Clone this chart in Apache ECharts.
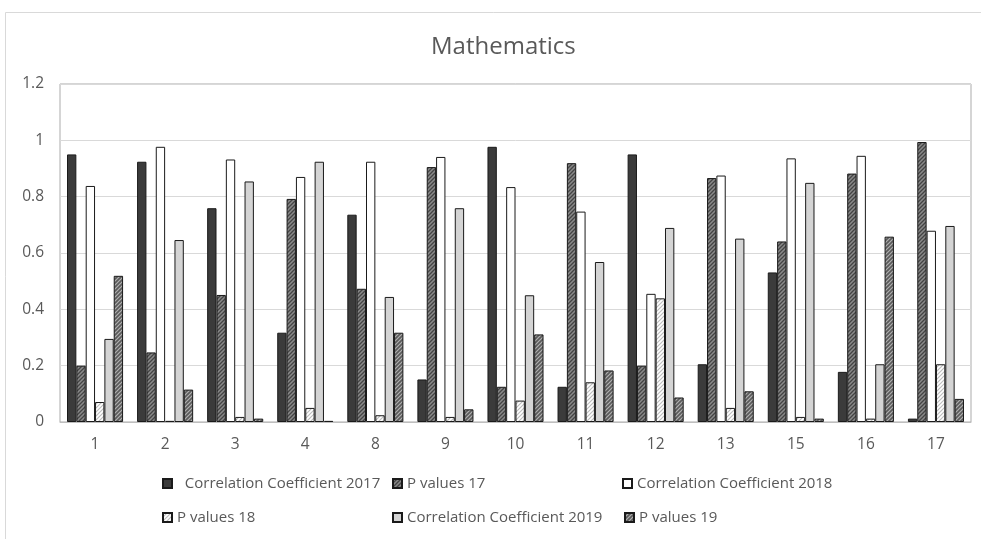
<!DOCTYPE html>
<html>
<head>
<meta charset="utf-8">
<script src="https://cdn.jsdelivr.net/npm/echarts@6/dist/echarts.min.js"></script>
<style>html,body{margin:0;padding:0;background:#fff}#c{width:981px;height:539px}</style>
</head>
<body>
<div id="c"></div>
<script>
const categories = ['1','2','3','4','8','9','10','11','12','13','15','16','17'];
const cc2017 = [0.950,0.924,0.759,0.317,0.736,0.151,0.977,0.125,0.950,0.205,0.531,0.178,0.012];
const p17    = [0.200,0.247,0.451,0.792,0.473,0.905,0.125,0.919,0.200,0.866,0.641,0.882,0.994];
const cc2018 = [0.838,0.977,0.932,0.870,0.924,0.941,0.834,0.747,0.455,0.875,0.936,0.945,0.679];
const p18    = [0.071,0.004,0.018,0.050,0.024,0.018,0.076,0.141,0.439,0.050,0.018,0.012,0.205];
const cc2019 = [0.295,0.646,0.854,0.924,0.444,0.759,0.450,0.568,0.689,0.651,0.849,0.205,0.696];
const p19    = [0.519,0.115,0.012,0.004,0.317,0.045,0.311,0.183,0.087,0.109,0.012,0.658,0.082];
const seriesNames = ['Correlation Coefficient 2017','P values 17','Correlation Coefficient 2018','P values 18','Correlation Coefficient 2019','P values 19'];

function hatch(bg, fg, size, lw) {
  const c = document.createElement('canvas');
  c.width = c.height = size;
  const x = c.getContext('2d');
  x.fillStyle = bg; x.fillRect(0, 0, size, size);
  x.strokeStyle = fg; x.lineWidth = lw;
  x.beginPath();
  x.moveTo(-1, size + 1); x.lineTo(size + 1, -1);
  x.moveTo(-size / 2 - 1, size / 2 + 1); x.lineTo(size / 2 + 1, -size / 2 - 1);
  x.moveTo(size / 2 - 1, size * 1.5 + 1); x.lineTo(size * 1.5 + 1, size / 2 - 1);
  x.stroke();
  return c;
}
const fills = [
  '#3b3b3b',
  {image: hatch('#8a8a8a', '#444444', 4, 1.3), repeat: 'repeat'},
  '#ffffff',
  {image: hatch('#ffffff', '#bdbdbd', 4, 1.2), repeat: 'repeat'},
  '#d4d4d4',
  {image: hatch('#5a5a5a', '#b0b0b0', 4, 1.2), repeat: 'repeat'}
];
const values = [cc2017, p17, cc2018, p18, cc2019, p19];
const font = "'Open Sans',sans-serif";

const legendPos = [[157,471],[387,471],[617,471],[157,505],[387,505],[619,505]];
const legends = seriesNames.map((n, i) => ({
  data: [n], left: legendPos[i][0], top: legendPos[i][1],
  icon: 'rect', itemWidth: 9, itemHeight: 9, itemGap: 4,
  formatter: i === 0 ? '  {name}' : '{name}',
  textStyle: {color: '#595959', fontSize: 15, fontFamily: font},
  selectedMode: false
}));

const chart = echarts.init(document.getElementById('c'), null, {renderer: 'canvas'});
chart.setOption({
  animation: false,
  backgroundColor: '#fff',
  title: {text: 'Mathematics', left: 426, top: 30,
    textStyle: {color: '#595959', fontSize: 24, fontWeight: 'normal', fontFamily: font}},
  graphic: [{type: 'rect', shape: {x: 5.5, y: 12.5, width: 990, height: 540},
    style: {fill: null, stroke: '#d9d9d9', lineWidth: 1}, silent: true, z: -1}],
  legend: legends,
  grid: {left: 60, right: 10, top: 84, bottom: 117, show: true, borderColor: '#ababab', borderWidth: 1},
  xAxis: {type: 'category', data: categories,
    axisLine: {lineStyle: {color: '#bfbfbf'}}, axisTick: {show: false},
    axisLabel: {color: '#595959', fontSize: 15.5, fontFamily: font, margin: 15}},
  yAxis: {type: 'value', min: 0, max: 1.2, interval: 0.2,
    axisLine: {show: false}, axisTick: {show: false},
    splitLine: {lineStyle: {color: '#d9d9d9'}},
    axisLabel: {color: '#595959', fontSize: 15.5, fontFamily: font, margin: 16}},
  series: values.map((v, i) => ({
    name: seriesNames[i], type: 'bar', data: v,
    barGap: '0%', barCategoryGap: '20%',
    itemStyle: {color: fills[i], borderColor: '#1a1a1a', borderWidth: 1}
  }))
});
</script>
</body>
</html>
